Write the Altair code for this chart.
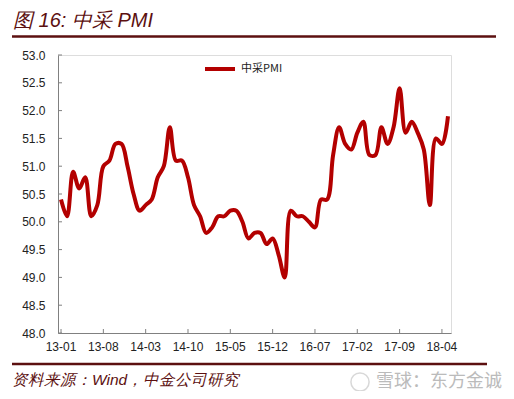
import altair as alt
import pandas as pd

months = [f"{y:02d}-{m:02d}" for y in range(13, 19) for m in range(1, 13)][:65]
pmi = [
    50.4, 50.1, 50.9, 50.6, 50.8, 50.1, 50.3, 51.0, 51.1, 51.4, 51.4, 51.0,
    50.5, 50.2, 50.3, 50.4, 50.8, 51.0, 51.7, 51.1, 51.1, 50.8, 50.3, 50.1,
    49.8, 49.9, 50.1, 50.1, 50.2, 50.2, 50.0, 49.7, 49.8, 49.8, 49.6, 49.7,
    49.4, 49.0, 50.2, 50.1, 50.1, 50.0, 49.9, 50.4, 50.4, 51.2, 51.7, 51.4,
    51.3, 51.6, 51.8, 51.2, 51.2, 51.7, 51.4, 51.7, 52.4, 51.6, 51.8, 51.6,
    51.3, 50.3, 51.5, 51.4, 51.9,
]
x_ticks = ["13-01", "13-08", "14-03", "14-10", "15-05", "15-12", "16-07", "17-02", "17-09", "18-04"]
y_ticks = [48.0, 48.5, 49.0, 49.5, 50.0, 50.5, 51.0, 51.5, 52.0, 52.5, 53.0]
series_name = "中采PMI"
title_text = "图 16: 中采 PMI"
source_text = "资料来源：Wind，中金公司研究"
watermark_text = "雪球：东方金诚"

W, H = 393, 278
LINE = "#B30000"
MAROON = "#5C1010"
AXIS = "#808080"

df = pd.DataFrame({"month": months, "pmi": pmi, "series": series_name})

xscale = alt.Scale(domain=months, padding=0)
yscale = alt.Scale(domain=[48, 53], nice=False, zero=False)
x_axis = alt.Axis(values=x_ticks, labelAngle=0, ticks=False, title=None,
                  domainColor=AXIS, labelFont="Liberation Sans", labelFontSize=12,
                  labelColor="#222222", labelPadding=8, labelFlush=False,
                  labelOverlap=False)
y_axis = alt.Axis(values=y_ticks, format=".1f", ticks=False, grid=False, title=None,
                  domainColor=AXIS, labelFont="Liberation Sans", labelFontSize=12,
                  labelColor="#222222", labelPadding=13, labelOverlap=False,
                  labelFlush=False)

line = alt.Chart(df).mark_line(strokeWidth=4, interpolate="catmull-rom").encode(
    x=alt.X("month:O", scale=xscale, sort=None, axis=x_axis),
    y=alt.Y("pmi:Q", scale=yscale, axis=y_axis),
    color=alt.Color("series:N", scale=alt.Scale(domain=[series_name], range=[LINE]),
                    legend=alt.Legend(title=None, orient="none", legendX=145, legendY=-3,
                                      symbolType="stroke", symbolSize=900, symbolStrokeWidth=4,
                                      labelFont="Noto Sans CJK SC", labelFontSize=11,
                                      labelColor="#222222", labelOffset=4)),
)

xt = alt.Chart(pd.DataFrame({"month": x_ticks})).mark_rule(color=AXIS, strokeWidth=1).encode(
    x=alt.X("month:O", scale=xscale, sort=None, axis=x_axis), y=alt.value(H - 4), y2=alt.value(H))
yt = alt.Chart(pd.DataFrame({"pmi": y_ticks})).mark_rule(color=AXIS, strokeWidth=1).encode(
    y=alt.Y("pmi:Q", scale=yscale, axis=y_axis), x=alt.value(0), x2=alt.value(4))

deco = pd.DataFrame({"k": [0]})
title = alt.Chart(deco).mark_text(align="left", baseline="middle", font="Liberation Sans",
                                  fontSize=20, fontStyle="italic", color=MAROON).encode(
    x=alt.value(-45), y=alt.value(-34), text=alt.value(title_text))
top_rule = alt.Chart(deco).mark_rule(color=MAROON, strokeWidth=2.5).encode(
    x=alt.value(-46), x2=alt.value(438), y=alt.value(-18.5))
bot_rule = alt.Chart(deco).mark_rule(color=MAROON, strokeWidth=2.5).encode(
    x=alt.value(-46), x2=alt.value(429), y=alt.value(309))
source = alt.Chart(deco).mark_text(align="left", baseline="middle", font="Liberation Sans",
                                   fontSize=15.5, fontStyle="italic", color=MAROON).encode(
    x=alt.value(-46), y=alt.value(325), text=alt.value(source_text))
wm_icon = alt.Chart(deco).mark_point(shape="circle", size=330, strokeWidth=1.5,
                                     color="#C8C8C8", filled=False).encode(
    x=alt.value(302), y=alt.value(327))
wm = alt.Chart(deco).mark_text(align="right", baseline="middle", font="Noto Sans CJK SC",
                               fontSize=18, color="#BBBBBB").encode(
    x=alt.value(444), y=alt.value(327), text=alt.value(watermark_text))

chart = alt.layer(line, xt, yt, title, top_rule, bot_rule, source, wm_icon, wm).properties(
    width=W, height=H,
    autosize=alt.AutoSizeParams(type="none"),
    padding={"left": 50, "top": 47, "right": 55, "bottom": 58},
).configure_view(stroke=None).configure(background="white")

chart.save("out.html", embed_options={"renderer": "svg", "actions": False})
